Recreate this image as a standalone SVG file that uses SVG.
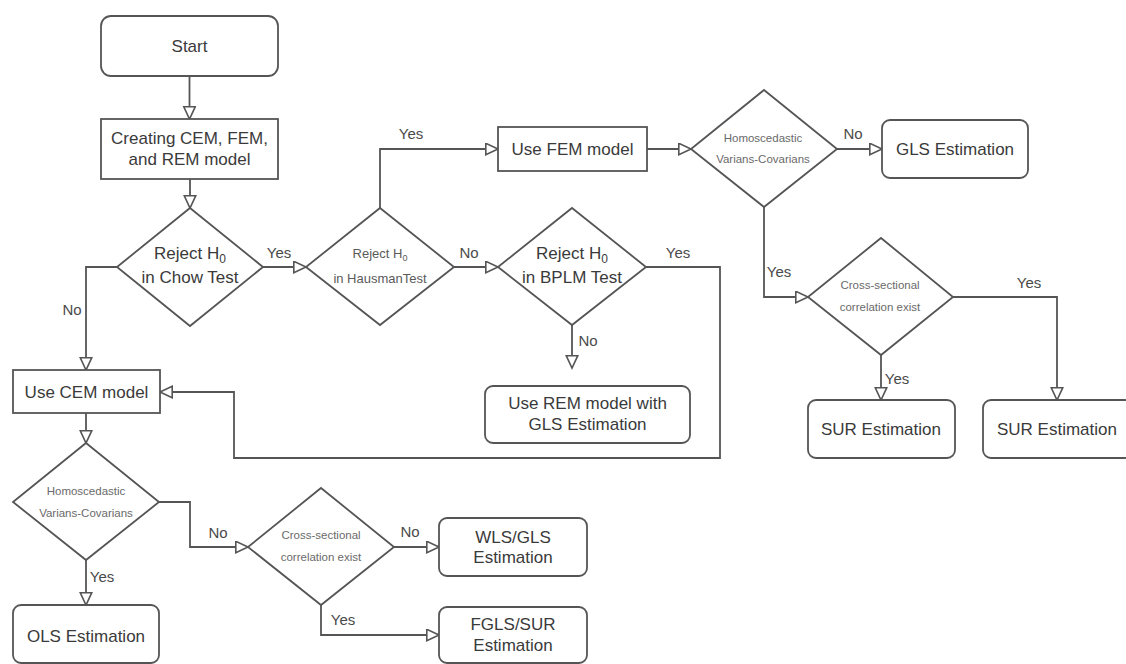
<svg xmlns="http://www.w3.org/2000/svg" width="1126" height="664" viewBox="0 0 1126 664">
<defs>
<marker id="arr" markerUnits="userSpaceOnUse" markerWidth="16" markerHeight="16" refX="13" refY="6.5" orient="auto">
<path d="M0.8,0.8 L13,6.5 L0.8,12.2 Z" fill="#ffffff" stroke="#555555" stroke-width="1.6"/>
</marker>
<style>
.box{fill:#ffffff;stroke:#555555;stroke-width:1.8}
.dia{fill:#ffffff;stroke:#555555;stroke-width:1.8}
.t{font-family:"Liberation Sans",Arial,sans-serif;font-size:17px;fill:#3a3a3a;text-anchor:middle}
.s{font-family:"Liberation Sans",Arial,sans-serif;font-size:11.5px;fill:#6a6a6a;text-anchor:middle}
.m{font-family:"Liberation Sans",Arial,sans-serif;font-size:13px;fill:#5a5a5a;text-anchor:middle}
.lbl{font-family:"Liberation Sans",Arial,sans-serif;font-size:15px;fill:#4a4a4a;text-anchor:middle}
.c{fill:none;stroke:#555555;stroke-width:1.8;marker-end:url(#arr)}
.cn{fill:none;stroke:#555555;stroke-width:1.8}
</style>
</defs>
<rect width="1126" height="664" fill="#ffffff"/>

<g id="connectors">
<path class="c" d="M189.5,76 V119"/>
<path class="c" d="M190,179 V208"/>
<path class="c" d="M263,267 H306"/>
<path class="c" d="M117,267 H86 V370"/>
<path class="c" d="M380,208 V149 H498"/>
<path class="c" d="M454,267 H498"/>
<path class="c" d="M646,267 H720 V458 H234 V392 H160"/>
<path class="c" d="M572,325 V368"/>
<path class="c" d="M647,149 H691"/>
<path class="c" d="M837,149 H882"/>
<path class="c" d="M764,207 V297 H808"/>
<path class="c" d="M881,355 V400"/>
<path class="c" d="M953,297 H1057 V400"/>
<path class="c" d="M86,413 V443"/>
<path class="c" d="M86,560 V605"/>
<path class="c" d="M159,502 H190 V547 H248"/>
<path class="c" d="M394,547 H439"/>
<path class="c" d="M321,605 V635 H439"/>
<text class="lbl" x="279" y="258">Yes</text>
<text class="lbl" x="72" y="315">No</text>
<text class="lbl" x="411" y="139">Yes</text>
<text class="lbl" x="469" y="258">No</text>
<text class="lbl" x="678" y="258">Yes</text>
<text class="lbl" x="588" y="346">No</text>
<text class="lbl" x="853" y="139">No</text>
<text class="lbl" x="779" y="277">Yes</text>
<text class="lbl" x="897" y="384">Yes</text>
<text class="lbl" x="1029" y="288">Yes</text>
<text class="lbl" x="102" y="582">Yes</text>
<text class="lbl" x="218" y="538">No</text>
<text class="lbl" x="410" y="537">No</text>
<text class="lbl" x="343" y="625">Yes</text>
</g>

<g id="start">
<rect class="box" x="101" y="16" width="177" height="60" rx="10"/>
<text class="t" x="189.5" y="52">Start</text>
</g>

<g id="creating">
<rect class="box" x="101" y="119" width="177" height="60"/>
<text class="t" x="189.5" y="144">Creating CEM, FEM,</text>
<text class="t" x="189.5" y="165">and REM model</text>
</g>

<g id="chow">
<polygon class="dia" points="190,208 263,267 190,326 117,267"/>
<text class="t" x="190" y="259">Reject H<tspan font-size="12" dy="4">0</tspan></text>
<text class="t" x="190" y="283">in Chow Test</text>
</g>

<g id="hausman">
<polygon class="dia" points="380,208 454,267 380,325 306,267"/>
<text class="m" x="380" y="258">Reject H<tspan font-size="9" dy="3">0</tspan></text>
<text class="m" x="380" y="282.5">in HausmanTest</text>
</g>

<g id="bplm">
<polygon class="dia" points="572,208 646,267 572,325 498,267"/>
<text class="t" x="572" y="259">Reject H<tspan font-size="12" dy="4">0</tspan></text>
<text class="t" x="572" y="283">in BPLM Test</text>
</g>

<g id="fem">
<rect class="box" x="498" y="127" width="149" height="44"/>
<text class="t" x="572.5" y="155">Use FEM model</text>
</g>

<g id="homo-top">
<polygon class="dia" points="764,90 837,149 764,207 691,149"/>
<text class="s" x="763" y="142">Homoscedastic</text>
<text class="s" x="763" y="163">Varians-Covarians</text>
</g>

<g id="gls">
<rect class="box" x="882" y="120" width="146" height="58" rx="8"/>
<text class="t" x="955" y="155">GLS Estimation</text>
</g>

<g id="cross-top">
<polygon class="dia" points="881,238 953,297 881,355 808,297"/>
<text class="s" x="880" y="289">Cross-sectional</text>
<text class="s" x="880" y="311">correlation exist</text>
</g>

<g id="sur1">
<rect class="box" x="808" y="400" width="147" height="58" rx="8"/>
<text class="t" x="881" y="435">SUR Estimation</text>
</g>

<g id="sur2">
<rect class="box" x="983" y="400" width="150" height="58" rx="8"/>
<text class="t" x="1057" y="435">SUR Estimation</text>
</g>

<g id="rem">
<rect class="box" x="485" y="386" width="205" height="57" rx="8"/>
<text class="t" x="587.5" y="409">Use REM model with</text>
<text class="t" x="587.5" y="430">GLS Estimation</text>
</g>

<g id="cem">
<rect class="box" x="13" y="370" width="147" height="43"/>
<text class="t" x="86.5" y="398">Use CEM model</text>
</g>

<g id="homo-bottom">
<polygon class="dia" points="86,443 159,502 86,560 13,502"/>
<text class="s" x="86" y="495">Homoscedastic</text>
<text class="s" x="86" y="517">Varians-Covarians</text>
</g>

<g id="ols">
<rect class="box" x="13" y="605" width="146" height="58" rx="8"/>
<text class="t" x="86" y="642">OLS Estimation</text>
</g>

<g id="cross-bottom">
<polygon class="dia" points="321,488 394,547 321,605 248,547"/>
<text class="s" x="321" y="539">Cross-sectional</text>
<text class="s" x="321" y="561">correlation exist</text>
</g>

<g id="wls">
<rect class="box" x="439" y="518" width="148" height="58" rx="8"/>
<text class="t" x="513" y="543">WLS/GLS</text>
<text class="t" x="513" y="563">Estimation</text>
</g>

<g id="fgls">
<rect class="box" x="439" y="607" width="148" height="56" rx="8"/>
<text class="t" x="513" y="630">FGLS/SUR</text>
<text class="t" x="513" y="651">Estimation</text>
</g>
</svg>
